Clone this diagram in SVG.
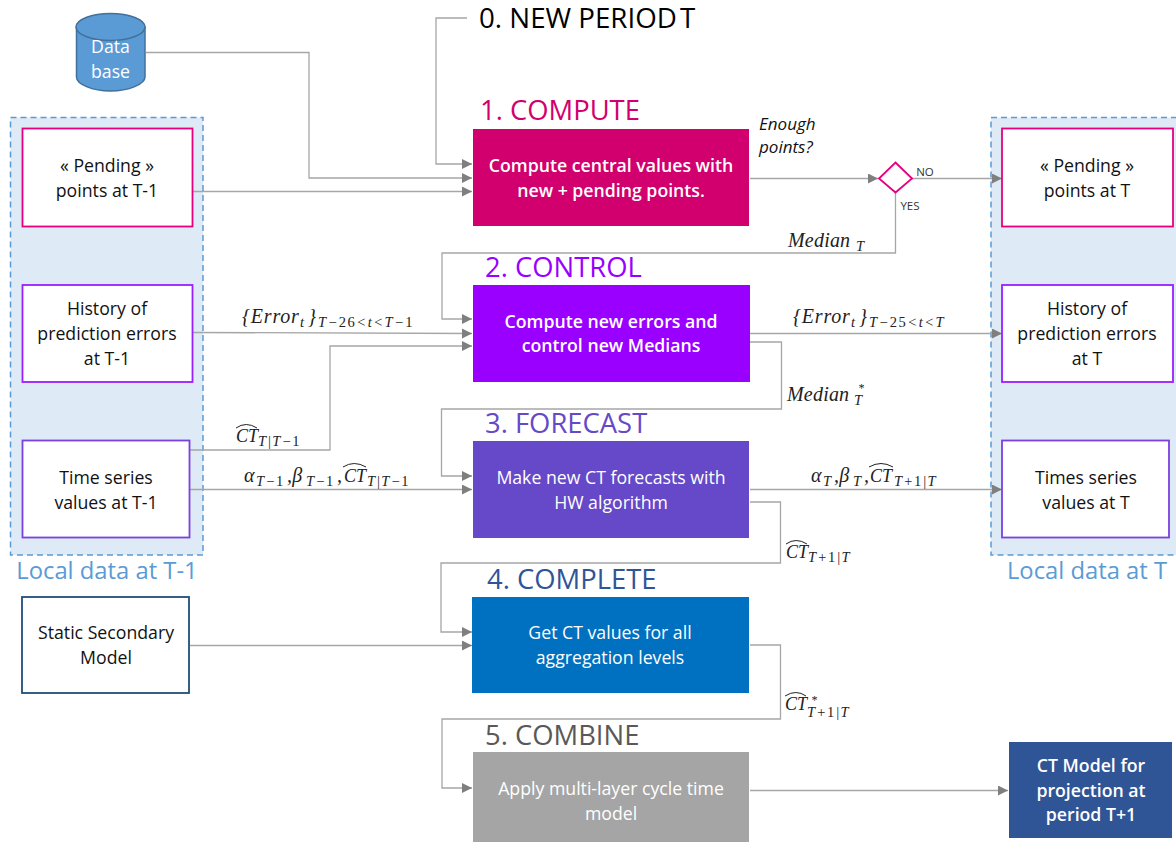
<svg xmlns="http://www.w3.org/2000/svg" width="1176" height="843" viewBox="0 0 1176 843">
<style>
text{font-family:"Open Sans","Noto Sans","Liberation Sans",sans-serif;text-anchor:middle}
.b{font-size:17.7px;fill:#111}
.w{font-size:17.7px;fill:#fff}
.wb{font-size:17.7px;fill:#fff;font-weight:600}
.h{font-size:27.4px;text-anchor:start}
.m{font-family:"Liberation Serif","DejaVu Serif",serif;font-style:italic;font-size:20px;fill:#222;text-anchor:start;letter-spacing:.2px}
.e{letter-spacing:.8px}
.ct{font-size:18px;letter-spacing:0}
.s{font-size:14.5px;letter-spacing:1.1px}
.l{letter-spacing:1.5px}
.st{font-size:12px}
.n{font-style:normal}
.c{fill:none;stroke:#a6a6a6;stroke-width:1.3}
.a{fill:#7f7f7f}
.hat{fill:none;stroke:#222;stroke-width:1}
.box{fill:#fff;stroke-width:1.8}
.local{fill:#deeaf6;stroke:#5b9bd5;stroke-width:1.5;stroke-dasharray:6 4}
.lt{font-size:23.8px;fill:#5b9bd5}
</style>
<defs><marker id="ah" markerWidth="11" markerHeight="11" refX="10" refY="5" orient="auto" markerUnits="userSpaceOnUse"><path d="M0 0L10 5L0 10Z" class="a"/></marker></defs>
<g id="local-left"><rect class="local" x="10.500" y="117.500" width="192.500" height="437.500"/><text class="lt" x="107" y="579">Local data at T-1</text></g>
<g id="local-right"><path class="local" d="M1177 117.500H991V555H1177"/><text class="lt" x="1087" y="579">Local data at T</text></g>
<g id="connectors">
<path class="c" d="M467 18H436V164H472" marker-end="url(#ah)"/>
<path class="c" d="M146 52.500H309V178H472" marker-end="url(#ah)"/>
<path class="c" d="M193 191.500H472" marker-end="url(#ah)"/>
<path class="c" d="M750 178.500H878" marker-end="url(#ah)"/>
<path class="c" d="M912 178.500H1002" marker-end="url(#ah)"/>
<path class="c" d="M895.500 193V253H442V319H472" marker-end="url(#ah)"/>
<path class="c" d="M193 332.500L472 333.500" marker-end="url(#ah)"/>
<path class="c" d="M190 450H330V346H472" marker-end="url(#ah)"/>
<path class="c" d="M750 333.500H1002" marker-end="url(#ah)"/>
<path class="c" d="M750 342H781.500V409H441.500V476H472" marker-end="url(#ah)"/>
<path class="c" d="M190 489.500H472" marker-end="url(#ah)"/>
<path class="c" d="M750 489.500H1002" marker-end="url(#ah)"/>
<path class="c" d="M750 502H780.500V563H441V632H472" marker-end="url(#ah)"/>
<path class="c" d="M190 645.500H472" marker-end="url(#ah)"/>
<path class="c" d="M750 645H780.500V719H442V788H472" marker-end="url(#ah)"/>
<path class="c" d="M750 790.500H1008" marker-end="url(#ah)"/>
</g>
<g id="database">
<path d="M76.500 27V77C76.500 84 92 91 110.500 91S145 84 145 77V27Z" fill="#5b9bd5" stroke="#41719c" stroke-width="1.500"/>
<ellipse cx="110.500" cy="27" rx="34.500" ry="13.500" fill="#5b9bd5" stroke="#41719c" stroke-width="1.500"/>
<text class="w" x="110.500" y="53">Data</text><text class="w" x="110.500" y="78">base</text>
</g>
<g id="title0"><text class="h" x="479" y="28" fill="#000" style="font-size:27.7px">0. NEW PERIOD<tspan style="word-spacing:-4px"> </tspan>T</text></g>
<g id="step1"><text class="h" x="480" y="120" fill="#d2006f">1. COMPUTE</text><rect x="473" y="129" width="276" height="97" fill="#d2006f"/><text class="wb" x="611" y="172">Compute central values with</text><text class="wb" x="611" y="197">new + pending points.</text></g>
<g id="step2"><text class="h" x="485" y="277" fill="#9a00ff">2. CONTROL</text><rect x="473" y="285" width="277" height="97" fill="#9a00ff"/><text class="wb" x="611" y="328">Compute new errors and</text><text class="wb" x="611" y="352">control new Medians</text></g>
<g id="step3"><text class="h" x="485" y="433" fill="#6549c8">3. FORECAST</text><rect x="473" y="441" width="276" height="97" fill="#6549c8"/><text class="w" x="611" y="484">Make new CT forecasts with</text><text class="w" x="611" y="509">HW algorithm</text></g>
<g id="step4"><text class="h" x="487" y="589" fill="#2f5597">4. COMPLETE</text><rect x="472" y="597" width="277" height="96" fill="#0070c0"/><text class="w" x="610" y="639">Get CT values for all</text><text class="w" x="610" y="664">aggregation levels</text></g>
<g id="step5"><text class="h" x="485" y="745" fill="#595959">5. COMBINE</text><rect x="473" y="752" width="276" height="90" fill="#a5a5a5"/><text class="w" x="611" y="795">Apply multi-layer cycle time</text><text class="w" x="611" y="820">model</text></g>
<g id="pending-left"><rect class="box" x="22.500" y="128.500" width="170" height="98" stroke="#e6007e"/><text class="b" x="107" y="172">« Pending »</text><text class="b" x="107" y="197">points at T-1</text></g>
<g id="history-left"><rect class="box" x="22.500" y="285" width="170" height="97" stroke="#9a1fff"/><text class="b" x="107" y="315">History of</text><text class="b" x="107" y="340">prediction errors</text><text class="b" x="107" y="365">at T-1</text></g>
<g id="series-left"><rect class="box" x="22.500" y="440.500" width="167" height="97" stroke="#7a3fe0"/><text class="b" x="106" y="484">Time series</text><text class="b" x="106" y="509">values at T-1</text></g>
<g id="static-model"><rect class="box" x="22" y="597" width="167" height="96" stroke="#1f4e79"/><text class="b" x="106" y="639">Static Secondary</text><text class="b" x="106" y="664">Model</text></g>
<g id="pending-right"><rect class="box" x="1002" y="128.500" width="171" height="98" stroke="#e6007e"/><text class="b" x="1087" y="172">« Pending »</text><text class="b" x="1087" y="197">points at T</text></g>
<g id="history-right"><rect class="box" x="1002" y="285" width="171" height="97" stroke="#9a1fff"/><text class="b" x="1087" y="315">History of</text><text class="b" x="1087" y="340">prediction errors</text><text class="b" x="1087" y="365">at T</text></g>
<g id="series-right"><rect class="box" x="1002" y="440.500" width="167" height="97" stroke="#7a3fe0"/><text class="b" x="1086" y="484">Times series</text><text class="b" x="1086" y="509">values at T</text></g>
<g id="decision"><path d="M895.500 162.500L912 178.500L895.500 192.500L879 178.500Z" fill="#fff" stroke="#e6007e" stroke-width="1.800"/>
<text x="925" y="176" font-size="11.500" fill="#333">NO</text><text x="910" y="210" font-size="11.500" fill="#333">YES</text></g>
<g id="enough"><text x="759" y="130" font-size="17" font-style="italic" fill="#111" style="text-anchor:start">Enough</text><text x="759" y="153" font-size="17" font-style="italic" fill="#111" style="text-anchor:start">points?</text></g>
<g id="result"><rect x="1009" y="742" width="163" height="96" fill="#2f5597"/><text class="wb" x="1091" y="772">CT Model for</text><text class="wb" x="1091" y="797">projection at</text><text class="wb" x="1091" y="821">period T+1</text></g>
<g id="labels">
<text class="m" x="788" y="247">Median<tspan class="s" x="856" y="251">T</tspan></text>
<text class="m e" x="242" y="323">{Error<tspan class="s" x="300" y="327">t</tspan><tspan x="308" y="323">}</tspan><tspan class="s l" x="318" y="327">T−<tspan class="n">26</tspan>&lt;t&lt;T−<tspan class="n">1</tspan></tspan></text>
<text class="m e" x="793" y="323">{Error<tspan class="s" x="851" y="327">t</tspan><tspan x="859" y="323">}</tspan><tspan class="s l" x="869" y="327">T−<tspan class="n">25</tspan>&lt;t&lt;T</tspan></text>
<text class="m" x="787" y="401">Median<tspan class="s" x="854" y="405">T</tspan></text>
<text class="m st" x="858" y="392">*</text>
<text class="m ct" x="236" y="442">CT<tspan class="s" x="258" y="446">T|T−<tspan class="n">1</tspan></tspan></text><path class="hat" d="M236 428Q246 421 257 428"/>
<text class="m" x="244" y="482">α<tspan class="s" x="256" y="486">T−<tspan class="n">1</tspan></tspan><tspan x="287" y="482">,β</tspan><tspan class="s" x="306" y="486">T−<tspan class="n">1</tspan></tspan><tspan x="337" y="482">,</tspan><tspan class="ct" x="344" y="482">CT</tspan><tspan class="s" x="367" y="486">T|T−<tspan class="n">1</tspan></tspan></text><path class="hat" d="M343 467Q354 460 366 467"/>
<text class="m" x="811" y="482">α<tspan class="s" x="823" y="486">T</tspan><tspan x="834" y="482">,β</tspan><tspan class="s" x="853" y="486">T</tspan><tspan x="864" y="482">,</tspan><tspan class="ct" x="870" y="482">CT</tspan><tspan class="s" x="894" y="486">T+<tspan class="n">1</tspan>|T</tspan></text><path class="hat" d="M869 467Q881 460 893 467"/>
<text class="m ct" x="786" y="558">CT<tspan class="s" x="808" y="562">T+<tspan class="n">1</tspan>|T</tspan></text><path class="hat" d="M786 544Q796 537 807 544"/>
<text class="m ct" x="785" y="710">CT<tspan class="s" x="807" y="717">T+<tspan class="n">1</tspan>|T</tspan></text><path class="hat" d="M785 696Q796 689 806 696"/>
<text class="m st" x="811" y="704">*</text>
</g>
</svg>
